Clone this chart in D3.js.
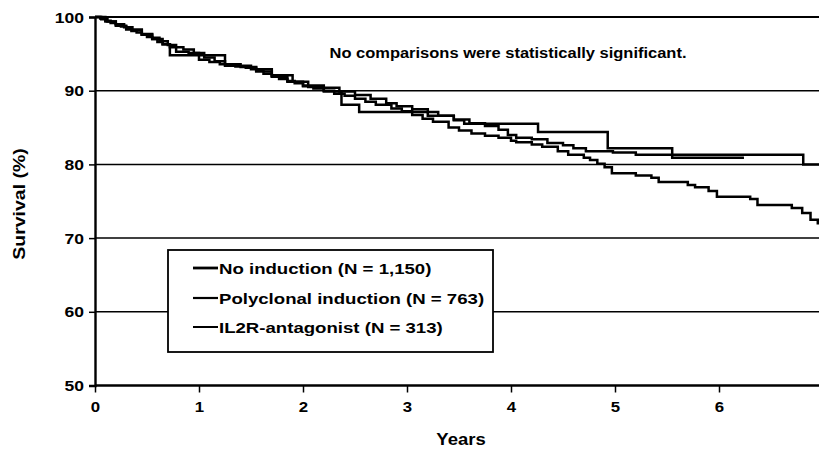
<!DOCTYPE html>
<html>
<head>
<meta charset="utf-8">
<script src="https://cdn.jsdelivr.net/npm/d3@7"></script>
<style>
  html, body { margin: 0; padding: 0; background: #fff; }
  svg { display: block; }
  text { font-family: "Liberation Sans", Arial, sans-serif; font-weight: bold; fill: #000; }
</style>
</head>
<body>
<svg id="chart" width="819" height="458"></svg>
<script>
// ---- Data ----
const xTicks = [0, 1, 2, 3, 4, 5, 6];
const yTicks = [50, 60, 70, 80, 90, 100];
const seriesNames = ["No induction (N = 1,150)", "Polyclonal induction (N = 763)", "IL2R-antagonist (N = 313)"];
const annotation = "No comparisons were statistically significant.";
const xLabel = "Years";
const yLabel = "Survival (%)";

// [years, survival %] step points
const noInduction = [
  [0,100],[0.05,99.8],[0.1,99.5],[0.15,99.2],[0.2,99.0],[0.25,98.7],[0.3,98.4],[0.35,98.1],
  [0.4,97.9],[0.45,97.6],[0.5,97.3],[0.55,97.0],[0.6,96.6],[0.65,96.3],[0.72,95.9],[0.85,95.6],
  [0.95,95.1],[1.05,94.5],[1.15,94.0],[1.25,93.6],[1.35,93.3],[1.45,93.1],[1.55,92.7],[1.62,92.3],
  [1.7,92.0],[1.77,91.6],[1.85,91.3],[1.92,91.0],[2.0,90.6],[2.1,90.3],[2.2,90.0],[2.3,89.6],
  [2.4,89.3],[2.5,88.9],[2.6,88.5],[2.7,88.1],[2.85,87.6],[2.95,87.2],[3.05,86.7],[3.15,86.2],
  [3.25,85.8],[3.4,85.0],[3.5,84.6],[3.62,84.2],[3.75,83.9],[3.88,83.6],[4.0,83.2],[4.05,83.0],
  [4.2,82.7],[4.3,82.4],[4.45,81.8],[4.55,81.3],[4.7,80.9],[4.76,80.6],[4.83,80.1],[4.9,79.6],
  [4.97,78.8],[5.2,78.5],[5.35,78.2],[5.42,77.6],[5.7,77.2],[5.77,76.9],[5.9,76.4],[5.98,75.6],
  [6.3,75.3],[6.37,74.5],[6.7,74.1],[6.8,73.4],[6.88,72.5],[6.95,72.0],[7.0,72.0]
];
const polyclonal = [
  [0,100],[0.06,99.7],[0.12,99.4],[0.2,99.0],[0.28,98.6],[0.36,98.2],[0.45,97.7],[0.55,97.2],
  [0.62,96.7],[0.7,96.2],[0.78,95.3],[0.9,95.1],[1.0,94.2],[1.1,93.9],[1.2,93.6],[1.4,93.2],
  [1.55,92.6],[1.7,91.9],[1.85,91.2],[2.0,90.7],[2.2,90.4],[2.35,89.9],[2.5,89.4],[2.65,88.9],
  [2.8,88.3],[2.9,87.9],[3.05,87.5],[3.2,87.1],[3.3,86.6],[3.45,86.1],[3.6,85.6],[3.75,85.2],
  [3.88,84.7],[3.97,84.0],[4.05,83.6],[4.2,83.4],[4.35,82.9],[4.5,82.6],[4.6,82.2],[4.72,81.8],
  [4.98,81.6],[5.2,81.3],[6.81,80.0],[7.0,80.0]
];
const il2r = [
  [0,100],[0.1,99.4],[0.2,98.8],[0.3,98.3],[0.45,97.6],[0.55,97.0],[0.65,96.3],[0.72,94.8],
  [1.25,93.4],[1.5,92.9],[1.7,92.1],[1.9,91.2],[2.05,90.5],[2.2,89.9],[2.37,88.1],[2.54,87.1],
  [3.2,86.6],[3.45,86.0],[3.55,85.5],[4.26,84.4],[4.93,82.2],[5.55,80.9],[6.24,80.9]
];
const allSeries = [noInduction, polyclonal, il2r];
const legendWidths = [2.8, 2.2, 2];

// horizontal stretch helper (the reference lettering is wide)
function stretch(sel, factor) {
  sel.each(function () {
    const w = this.getComputedTextLength();
    d3.select(this).attr("textLength", w * factor).attr("lengthAdjust", "spacingAndGlyphs");
  });
}

// ---- Layout ----
const svg = d3.select("#chart");
const x = d3.scaleLinear().domain([0, 7]).range([95, 823]);
const y = d3.scaleLinear().domain([50, 100]).range([385.5, 17]);

// gridlines (60..100)
svg.append("g").selectAll("line")
  .data(yTicks.filter(d => d > 50))
  .join("line")
  .attr("x1", x(0)).attr("x2", 819)
  .attr("y1", d => y(d)).attr("y2", d => y(d))
  .attr("stroke", "#000")
  .attr("stroke-width", d => d === 100 ? 2.2 : 1.5);

// y axis
const yAxis = svg.append("g")
  .attr("transform", `translate(${x(0)},0)`)
  .call(d3.axisLeft(y).tickValues(yTicks).tickSize(6).tickPadding(5));
yAxis.select(".domain").attr("stroke-width", 2.4);
yAxis.selectAll(".tick line").attr("stroke-width", 1.5);
yAxis.selectAll("text").attr("font-size", 14).attr("font-family", null).attr("dy", "0.36em");
stretch(yAxis.selectAll("text"), 1.25);

// x axis
const xAxis = svg.append("g")
  .attr("transform", `translate(0,${y(50)})`)
  .call(d3.axisBottom(x).tickValues(xTicks).tickFormat(d3.format("d")).tickSize(7).tickPadding(10));
xAxis.select(".domain").attr("stroke-width", 2.4).attr("d", `M${x(0)},0H819`);
xAxis.selectAll(".tick line").attr("stroke-width", 1.5);
xAxis.selectAll("text").attr("font-size", 14).attr("font-family", null);
stretch(xAxis.selectAll("text"), 1.2);

// survival curves
const line = d3.line().x(d => x(d[0])).y(d => y(d[1])).curve(d3.curveStepAfter);
svg.append("g").selectAll("path")
  .data(allSeries)
  .join("path")
  .attr("d", line)
  .attr("fill", "none")
  .attr("stroke", "#000")
  .attr("stroke-width", 2.5);

// annotation
const ann = svg.append("text")
  .attr("x", 508).attr("y", 58)
  .attr("text-anchor", "middle")
  .attr("font-size", 14)
  .text(annotation);
ann.attr("textLength", 357).attr("lengthAdjust", "spacingAndGlyphs");

// legend
const lg = svg.append("g");
lg.append("rect")
  .attr("x", 168).attr("y", 250).attr("width", 325).attr("height", 102)
  .attr("fill", "#fff").attr("stroke", "#000").attr("stroke-width", 1.8);
const rowY = [268, 298, 327];
seriesNames.forEach((name, i) => {
  lg.append("line")
    .attr("x1", 193).attr("x2", 218)
    .attr("y1", rowY[i]).attr("y2", rowY[i])
    .attr("stroke", "#000").attr("stroke-width", legendWidths[i]);
  const t = lg.append("text")
    .attr("x", 219).attr("y", rowY[i] + 5.5)
    .attr("font-size", 15.5)
    .text(name);
  stretch(t, 1.2);
});

// axis titles
const xt = svg.append("text")
  .attr("x", 461).attr("y", 445)
  .attr("text-anchor", "middle")
  .attr("font-size", 16.5)
  .text(xLabel);
stretch(xt, 1.12);
const yt = svg.append("text")
  .attr("transform", "translate(25,204) rotate(-90)")
  .attr("text-anchor", "middle")
  .attr("font-size", 16.5)
  .text(yLabel);
stretch(yt, 1.18);
</script>
</body>
</html>
